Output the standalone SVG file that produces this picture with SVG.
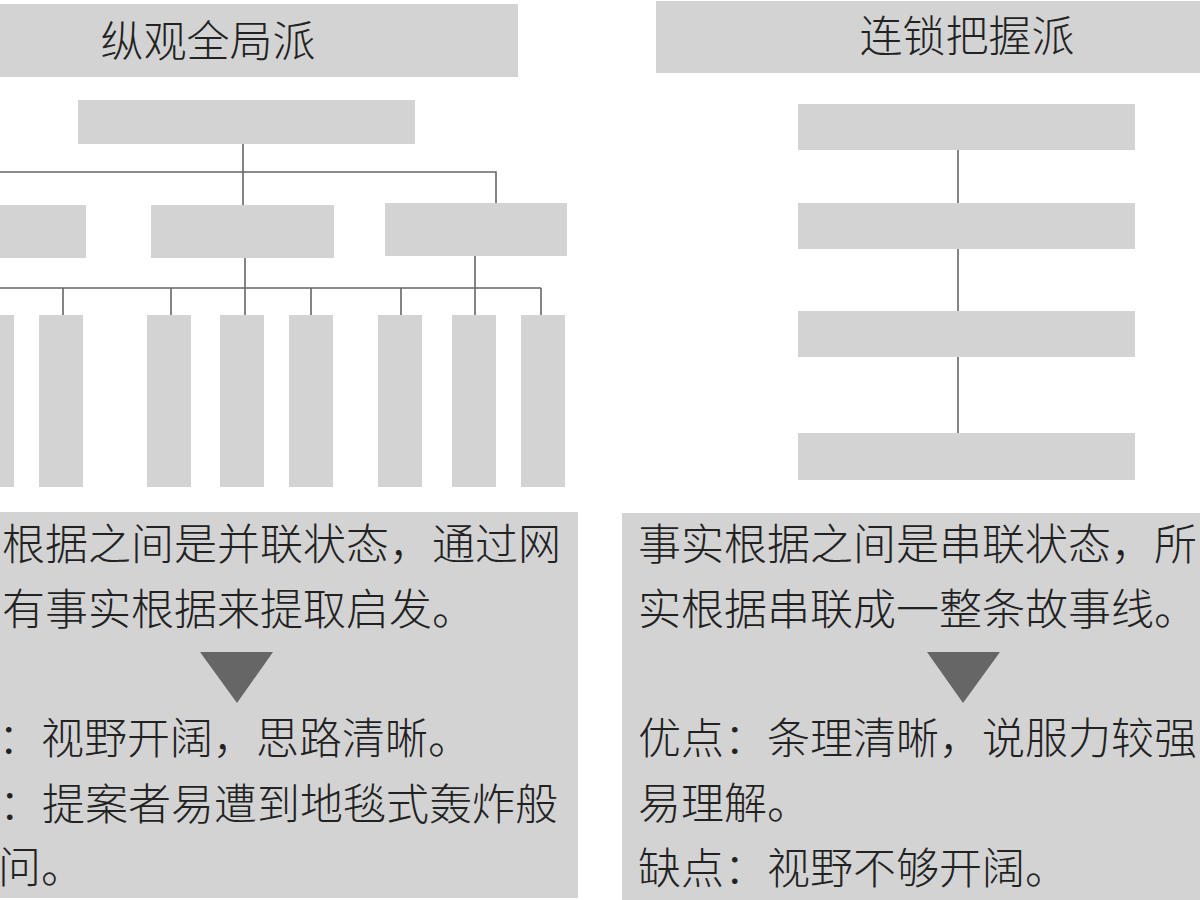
<svg xmlns="http://www.w3.org/2000/svg" width="1200" height="900" viewBox="0 0 1200 900">
<style>
.box{fill:#d3d3d3}
.t{font-family:"Noto Sans CJK SC","Noto Sans CJK JP",sans-serif;font-size:43px;font-weight:300;fill:#222}
.h{text-anchor:middle}
.ln{stroke:#666;stroke-width:1.6;fill:none}
.tri{fill:#666}
</style>
<rect width="1200" height="900" fill="#fff"/>
<g id="header-left"><rect class="box" x="0" y="4" width="518" height="73"/><text class="t h" x="208" y="57">纵观全局派</text></g>
<g id="header-right"><rect class="box" x="656" y="1" width="560" height="72"/><text class="t h" x="967" y="52">连锁把握派</text></g>
<g id="connectors">
<path class="ln" d="M243 144V205M0 172H496V203M245 258V315M475 256V315M0 288H541M63 288V315M171 288V315M311 288V315M401 288V315M541 288V315"/>
<path class="ln" d="M958 150V203M958 249V311M958 357V433"/>
</g>
<g id="left-top"><rect class="box" x="78" y="100" width="337" height="44"/></g>
<g id="left-mid1"><rect class="box" x="-10" y="205" width="96" height="53"/></g>
<g id="left-mid2"><rect class="box" x="151" y="205" width="183" height="53"/></g>
<g id="left-mid3"><rect class="box" x="385" y="203" width="182" height="53"/></g>
<g id="leaf1"><rect class="box" x="-30" y="315" width="44" height="172"/></g>
<g id="leaf2"><rect class="box" x="39" y="315" width="44" height="172"/></g>
<g id="leaf3"><rect class="box" x="147" y="315" width="44" height="172"/></g>
<g id="leaf4"><rect class="box" x="220" y="315" width="44" height="172"/></g>
<g id="leaf5"><rect class="box" x="289" y="315" width="44" height="172"/></g>
<g id="leaf6"><rect class="box" x="378" y="315" width="44" height="172"/></g>
<g id="leaf7"><rect class="box" x="452" y="315" width="44" height="172"/></g>
<g id="leaf8"><rect class="box" x="521" y="315" width="44" height="172"/></g>
<g id="right-n1"><rect class="box" x="798" y="104" width="337" height="46"/></g>
<g id="right-n2"><rect class="box" x="798" y="203" width="337" height="46"/></g>
<g id="right-n3"><rect class="box" x="798" y="311" width="337" height="46"/></g>
<g id="right-n4"><rect class="box" x="798" y="433" width="337" height="47"/></g>
<g id="left-desc">
<rect class="box" x="0" y="512" width="578" height="386"/>
<text class="t" x="2" y="560">根据之间是并联状态，通过网</text>
<text class="t" x="2" y="625">有事实根据来提取启发。</text>
<polygon class="tri" points="200,652 273,652 237,703"/>
<text class="t" x="-2" y="754">：视野开阔，思路清晰。</text>
<text class="t" x="-1" y="820">：提案者易遭到地毯式轰炸般</text>
<text class="t" x="-2" y="883">问。</text>
</g>
<g id="right-desc">
<rect class="box" x="622" y="513" width="600" height="387"/>
<text class="t" x="638" y="560">事实根据之间是串联状态，所</text>
<text class="t" x="638" y="625">实根据串联成一整条故事线。</text>
<polygon class="tri" points="927,652 1000,652 963,703"/>
<text class="t" x="638" y="754">优点：条理清晰，说服力较强</text>
<text class="t" x="638" y="819">易理解。</text>
<text class="t" x="638" y="884">缺点：视野不够开阔。</text>
</g>
</svg>
